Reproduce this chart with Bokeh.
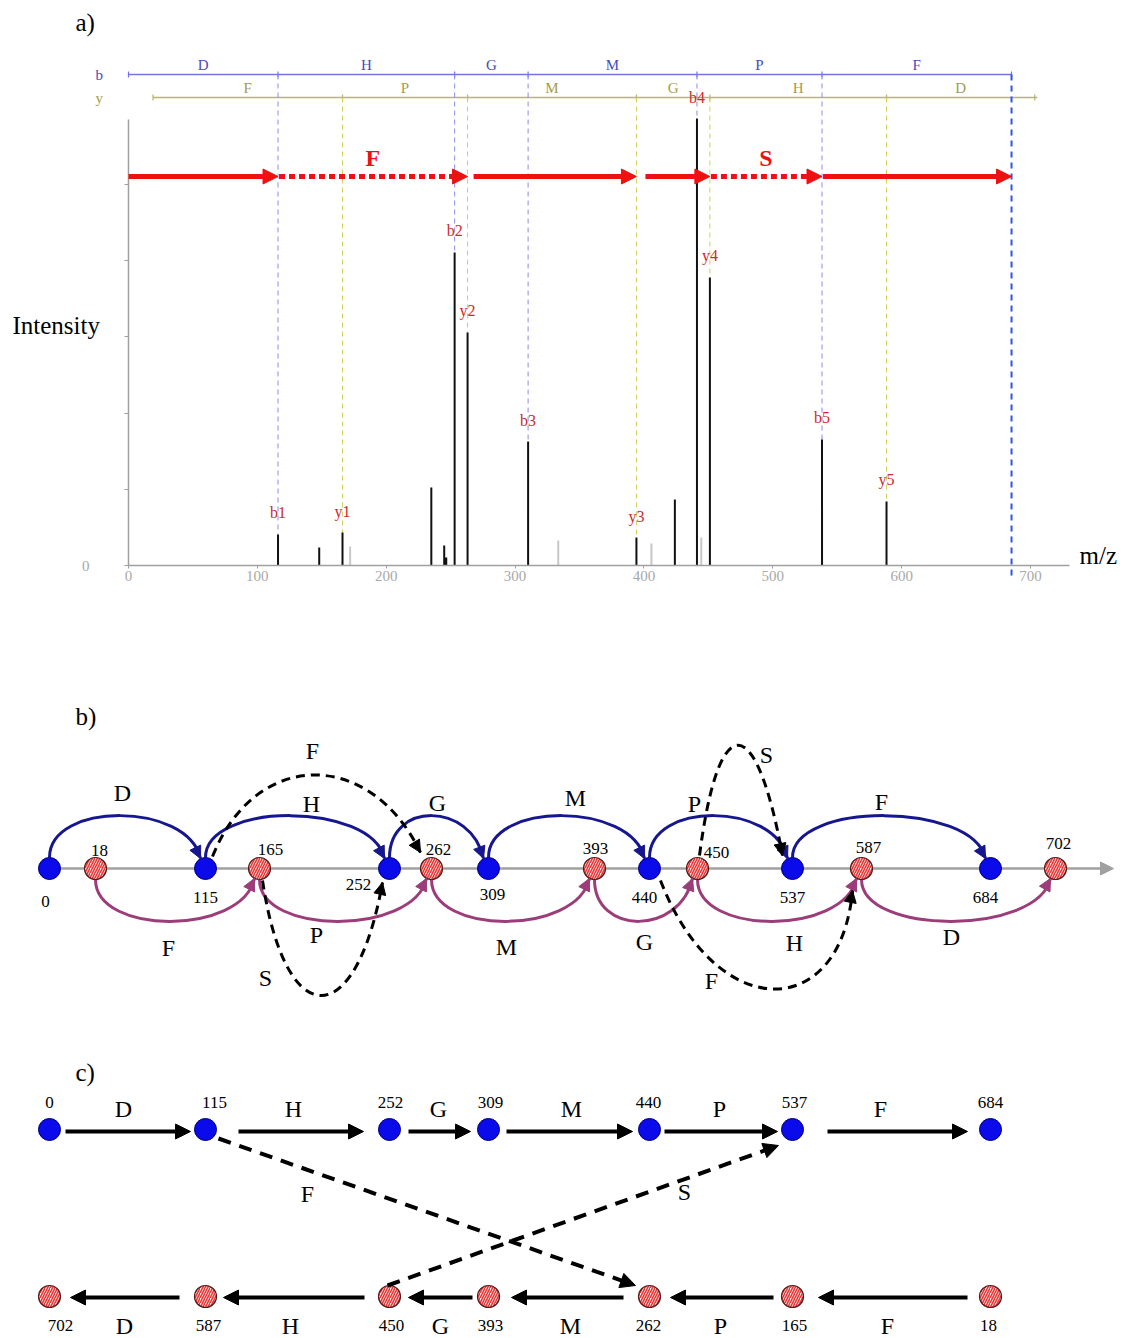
import numpy as np
from bokeh.plotting import figure
from bokeh.layouts import column
from bokeh.models import Range1d, Arrow, NormalHead, FixedTicker, ColumnDataSource
from bokeh.embed import file_html
from bokeh.resources import INLINE
from bokeh.core.properties import value

SERIF = "Liberation Serif"

# ============================ DATA ============================
# panel a : spectrum of peptide DHGMPF with b / y ladders (m/z)
b_residues = ["D", "H", "G", "M", "P", "F"]
y_residues = ["F", "P", "M", "G", "H", "D"]
b_ladder_mz = [0.0, 116.03, 253.09, 310.11, 441.15, 538.20, 685.27]
y_ladder_mz = [19.02, 166.08, 263.13, 394.17, 451.19, 588.25, 703.28]

ion_names = ["b1", "y1", "b2", "y2", "b3", "y3", "b4", "y4", "b5", "y5"]
ion_mz = [116.03, 166.08, 253.09, 263.13, 310.11, 394.17, 441.15, 451.19, 538.20, 588.25]
ion_intensity = [407, 433, 4108, 3058, 1627, 367, 5866, 3780, 1654, 840]

other_mz = [148.0, 235.0, 245.0, 424.0]
other_intensity = [236, 1024, 262, 866]
small_mz = [246.2]
small_intensity = [105]
faint_mz = [172.0, 333.5, 405.8, 444.5]
faint_intensity = [249, 328, 289, 367]

# de novo path through the spectrum
path_mz = [0.0, 116.03, 263.13, 394.17, 451.19, 538.20, 685.27]
path_dotted = [False, True, False, False, True, False]
path_labels = ["", "F", "", "", "S", ""]

x_ticks = [0, 100, 200, 300, 400, 500, 600, 700]
y_ticks = [0, 1000, 2000, 3000, 4000, 5000]

# panels b, c : spectrum graph
b_nodes = [0, 115, 252, 309, 440, 537, 684]
y_nodes = [18, 165, 262, 393, 450, 587, 702]
b_edges = ["D", "H", "G", "M", "P", "F"]
y_edges = ["F", "P", "M", "G", "H", "D"]

# ============================ LAYOUT / STYLE ============================
BLUE_LADDER = "#7474e6"
BLUE_TEXT = "#4a4ab8"
OLIVE_LADDER = "#b6b66c"
OLIVE_TEXT = "#a39c4c"
BLUE_GUIDE = "#8c8ce8"
OLIVE_GUIDE = "#cfcf5a"
LAST_GUIDE = "#2d55e8"
ION_RED = "#cc2a2a"
PATH_RED = "#ee1111"
GREY = "#a0a0a0"
NAVY = "#16168e"
PURPLE = "#9c3d7a"
NODE_BLUE = "#0a0aea"
NODE_RED_FILL = "#fde4e4"
NODE_RED_HATCH = "#e43a3a"

W = 1131
LEFT = 10          # common left border of all figures
PX_PER_MZ = 1.2886
PX_PER_INT = 0.0762
X0_PX, Y0_PX = 128, 565   # where the spectrum origin sits


def mzX(X):
    return (X - X0_PX) / PX_PER_MZ


def intY(Y):
    return (Y0_PX - Y) / PX_PER_INT


def mz_px(px):
    return px / PX_PER_MZ


def int_px(px):
    return px / PX_PER_INT


def bez(p0, p1, p2, p3, t):
    return tuple((1 - t) ** 3 * a + 3 * (1 - t) ** 2 * t * b + 3 * (1 - t) * t ** 2 * c + t ** 3 * d
                 for a, b, c, d in zip(p0, p1, p2, p3))


def heads(p, curves, color, size):
    x0, y0, x1, y1 = [], [], [], []
    for (p0, p1, p2, p3) in curves:
        s = bez(p0, p1, p2, p3, 0.9)
        x0.append(s[0]); y0.append(s[1]); x1.append(p3[0]); y1.append(p3[1])
    src = ColumnDataSource(dict(x0=x0, y0=y0, x1=x1, y1=y1))
    p.add_layout(Arrow(end=NormalHead(size=size, fill_color=color, line_color=color, line_width=1),
                       x_start="x0", y_start="y0", x_end="x1", y_end="y1", source=src,
                       line_alpha=0, line_width=1))


def draw_curves(p, curves, color, width, dash="solid"):
    p.bezier(x0=[c[0][0] for c in curves], y0=[c[0][1] for c in curves],
             x1=[c[3][0] for c in curves], y1=[c[3][1] for c in curves],
             cx0=[c[1][0] for c in curves], cy0=[c[1][1] for c in curves],
             cx1=[c[2][0] for c in curves], cy1=[c[2][1] for c in curves],
             line_color=color, line_width=width, line_dash=dash)


def txt(p, x, y, t, size, color="black", align="center", baseline="middle", bold=False, yoff=0):
    p.text(x=x, y=y, text=t, text_font=value(SERIF), text_font_size=size, text_color=color,
           text_align=align, text_baseline=baseline, y_offset=yoff,
           text_font_style="bold" if bold else "normal")


# ============================ PANEL A ============================
HA, BOT_A = 628, 30
pa = figure(width=W, height=HA, x_range=Range1d(mzX(LEFT), mzX(W)), y_range=Range1d(intY(HA - BOT_A), intY(0)),
            output_backend="svg", toolbar_location=None,
            min_border_left=LEFT, min_border_right=0, min_border_top=0, min_border_bottom=BOT_A)
pa.grid.visible = False
pa.outline_line_color = None

xa = pa.xaxis[0]
xa.fixed_location = 0
xa.ticker = FixedTicker(ticks=x_ticks)
xa.bounds = (0, mzX(1069))
xa.axis_line_color = GREY
xa.axis_line_width = 1.5
xa.major_tick_line_color = GREY
xa.major_tick_out = 3
xa.major_tick_in = 0
xa.minor_tick_line_color = None
xa.major_label_text_font = SERIF
xa.major_label_text_font_size = "15px"
xa.major_label_text_color = "#a8a8a8"
xa.major_label_standoff = 2

ya = pa.yaxis[0]
ya.fixed_location = 0
ya.ticker = FixedTicker(ticks=y_ticks)
ya.bounds = (0, 5850)
ya.major_label_overrides = {t: " " for t in y_ticks}
ya.major_label_text_font_size = "0px"
ya.major_label_standoff = 0
ya.axis_line_color = GREY
ya.axis_line_width = 1.5
ya.major_tick_line_color = GREY
ya.major_tick_out = 4
ya.major_tick_in = 0
ya.minor_tick_line_color = None

YB = intY(74)
YY = intY(97)
YA = intY(176)
ion_int = dict(zip(ion_names, ion_intensity))
ion_pos = dict(zip(ion_names, ion_mz))

# ladders
pa.segment(x0=[b_ladder_mz[0]], y0=[YB], x1=[b_ladder_mz[-1]], y1=[YB], line_color=BLUE_LADDER, line_width=1.5)
pa.segment(x0=b_ladder_mz, y0=YB - int_px(3), x1=b_ladder_mz, y1=YB + int_px(3), line_color=BLUE_LADDER, line_width=1.2)
pa.segment(x0=[y_ladder_mz[0]], y0=[YY], x1=[y_ladder_mz[-1] + 2], y1=[YY], line_color=OLIVE_LADDER, line_width=1.5)
pa.segment(x0=y_ladder_mz, y0=YY - int_px(3), x1=y_ladder_mz, y1=YY + int_px(3), line_color=OLIVE_LADDER, line_width=1.2)
bmid = [(a + b) / 2 for a, b in zip(b_ladder_mz[:-1], b_ladder_mz[1:])]
ymid = [(a + b) / 2 for a, b in zip(y_ladder_mz[:-1], y_ladder_mz[1:])]
txt(pa, bmid, [YB] * 6, b_residues, "15px", BLUE_TEXT, baseline="bottom", yoff=-2)
txt(pa, ymid, [YY] * 6, y_residues, "15px", OLIVE_TEXT, baseline="bottom", yoff=-2)

# guide lines
bnames = ["b1", "b2", "b3", "b4", "b5"]
ynames = ["y1", "y2", "y3", "y4", "y5"]
pa.segment(x0=[ion_pos[n] for n in bnames], y0=YB, x1=[ion_pos[n] for n in bnames],
           y1=[ion_int[n] for n in bnames], line_color=BLUE_GUIDE, line_width=1, line_dash="5 4")
pa.segment(x0=[ion_pos[n] for n in ynames], y0=YY, x1=[ion_pos[n] for n in ynames],
           y1=[ion_int[n] for n in ynames], line_color=OLIVE_GUIDE, line_width=1, line_dash="5 4")
pa.segment(x0=[b_ladder_mz[-1]], y0=[YB], x1=[b_ladder_mz[-1]], y1=[intY(576)], line_color=LAST_GUIDE,
           line_width=2, line_dash="6 5")

# peaks
pa.segment(x0=faint_mz, y0=0, x1=faint_mz, y1=faint_intensity, line_color="#c8c8c8", line_width=2)
pa.segment(x0=other_mz, y0=0, x1=other_mz, y1=other_intensity, line_color="#111111", line_width=2)
pa.segment(x0=small_mz, y0=0, x1=small_mz, y1=small_intensity, line_color="#111111", line_width=3)
pa.segment(x0=ion_mz, y0=0, x1=ion_mz, y1=ion_intensity, line_color="#111111", line_width=2)
txt(pa, ion_mz, ion_intensity, ion_names, "16px", ION_RED, baseline="bottom", yoff=-13)

# de novo path arrows
start_gap_px = [0, 1, 6, 9, 1, 1]
for dotted in (False, True):
    idx = [i for i in range(len(path_dotted)) if path_dotted[i] == dotted]
    src = ColumnDataSource(dict(
        x0=[path_mz[i] + mz_px(start_gap_px[i]) for i in idx],
        x1=[path_mz[i + 1] for i in idx],
        y=[YA] * len(idx)))
    pa.add_layout(Arrow(end=NormalHead(size=15, fill_color=PATH_RED, line_color=PATH_RED, line_width=1),
                        x_start="x0", y_start="y", x_end="x1", y_end="y", source=src,
                        line_color=PATH_RED, line_width=5, line_dash="6 4" if dotted else "solid"))
lab_idx = [i for i in range(len(path_labels)) if path_labels[i]]
txt(pa, [(path_mz[i] + path_mz[i + 1]) / 2 for i in lab_idx], [YA] * len(lab_idx),
    [path_labels[i] for i in lab_idx], "24px", PATH_RED, baseline="bottom", bold=True, yoff=-6)

# panel texts
txt(pa, [mzX(75)], [intY(22)], ["a)"], "25px", align="left")
txt(pa, [mzX(95)], [intY(74)], ["b"], "15px", BLUE_TEXT, align="left")
txt(pa, [mzX(95)], [intY(97)], ["y"], "15px", OLIVE_TEXT, align="left")
txt(pa, [mzX(12)], [intY(325)], ["Intensity"], "25px", align="left")
txt(pa, [mzX(1079)], [intY(555)], ["m/z"], "25px", align="left")
txt(pa, [mzX(89)], [0], ["0"], "15px", "#a8a8a8", align="right")

# ============================ PANEL B ============================
COLS = [49, 205, 389, 488, 649, 792, 990]
RED_B = [95, 259, 431, 594, 697, 861, 1055]

pb = figure(width=W, height=400, x_range=Range1d(LEFT, W), y_range=Range1d(-160, 240),
            output_backend="svg", toolbar_location=None, x_axis_location=None, y_axis_location=None,
            min_border_left=LEFT, min_border_right=0, min_border_top=0, min_border_bottom=0)
pb.grid.visible = False
pb.outline_line_color = None

pb.add_layout(Arrow(end=NormalHead(size=13, fill_color=GREY, line_color=GREY, line_width=1),
                    x_start=38, y_start=0, x_end=1113, y_end=0, line_color=GREY, line_width=2.5,
                    level="underlay"))

blue_arcs = [((COLS[i], 11), (COLS[i], 67), (COLS[i + 1] - 18, 67), (COLS[i + 1] - 5, 10)) for i in range(6)]
red_arcs = [((RED_B[i], -11), (RED_B[i], -67), (RED_B[i + 1] - 18, -67), (RED_B[i + 1] - 5, -10)) for i in range(6)]
draw_curves(pb, blue_arcs, NAVY, 3)
draw_curves(pb, red_arcs, PURPLE, 3)

gap_arcs = [((212, 12), (255, 120), (370, 120), (420, 16)),
            ((262, -12), (285, -165), (355, -165), (382, -14)),
            ((699, 13), (718, 160), (755, 160), (782, 13)),
            ((660, -12), (715, -155), (840, -155), (852, -22))]
draw_curves(pb, gap_arcs, "black", 3, "9 6")

pb.scatter(x=COLS, y=[0] * 7, size=22, marker="circle", fill_color=NODE_BLUE, line_color="#000070", line_width=1)
pb.scatter(x=RED_B, y=[0] * 7, size=22, marker="circle", fill_color=NODE_RED_FILL, line_color="#5a1a1a",
           line_width=1.2, hatch_pattern="/", hatch_color=NODE_RED_HATCH, hatch_weight=1.6, hatch_scale=5)

heads(pb, blue_arcs, NAVY, 12)
heads(pb, red_arcs, PURPLE, 12)
heads(pb, gap_arcs, "black", 12)

txt(pb, [45, 205, 358, 492, 644, 792, 985], [-33, -29, -16, -26, -29, -29, -29], [str(v) for v in b_nodes], "17px")
txt(pb, [99, 270, 438, 595, 716, 868, 1058], [18, 19, 19, 20, 16, 21, 25], [str(v) for v in y_nodes], "17px")
txt(pb, [122, 311, 437, 575, 694, 881], [76, 65, 66, 71, 65, 67], b_edges, "24px")
txt(pb, [168, 316, 506, 644, 794, 951], [-79, -66, -78, -73, -74, -68], y_edges, "24px")
txt(pb, [312, 265, 766, 711], [118, -109, 114, -112], ["F", "S", "S", "F"], "24px")
txt(pb, [75], [152], ["b)"], "25px", align="left")

# ============================ PANEL C ============================
TOP = 167
pc = figure(width=W, height=310, x_range=Range1d(LEFT, W), y_range=Range1d(-42, 268),
            output_backend="svg", toolbar_location=None, x_axis_location=None, y_axis_location=None,
            min_border_left=LEFT, min_border_right=0, min_border_top=0, min_border_bottom=0)
pc.grid.visible = False
pc.outline_line_color = None

top_src = ColumnDataSource(dict(x0=[65, 238, 408, 506, 664, 827], x1=[190, 363, 470, 632, 777, 967], y=[TOP - 2] * 6))
bot_src = ColumnDataSource(dict(x0=[179, 364, 472, 623, 773, 967], x1=[70, 223, 408, 511, 670, 818], y=[-1] * 6))
for s in (top_src, bot_src):
    pc.add_layout(Arrow(end=NormalHead(size=15, fill_color="black", line_color="black", line_width=1),
                        x_start="x0", y_start="y", x_end="x1", y_end="y", source=s,
                        line_color="black", line_width=4))
dash_src = ColumnDataSource(dict(x0=[218, 387], y0=[158, 11], x1=[635, 778], y1=[11, 151]))
pc.add_layout(Arrow(end=NormalHead(size=15, fill_color="black", line_color="black", line_width=1),
                    x_start="x0", y_start="y0", x_end="x1", y_end="y1", source=dash_src,
                    line_color="black", line_width=4, line_dash="13 9"))

pc.scatter(x=COLS, y=[TOP] * 7, size=22, marker="circle", fill_color=NODE_BLUE, line_color="#000070", line_width=1)
pc.scatter(x=COLS, y=[0] * 7, size=22, marker="circle", fill_color=NODE_RED_FILL, line_color="#5a1a1a",
           line_width=1.2, hatch_pattern="/", hatch_color=NODE_RED_HATCH, hatch_weight=1.6, hatch_scale=5)

txt(pc, [49, 214, 390, 490, 648, 794, 990], [TOP + 27] * 7, [str(v) for v in b_nodes], "17px")
txt(pc, [60, 208, 391, 490, 648, 794, 988], [-29] * 7, [str(v) for v in y_nodes[::-1]], "17px")
txt(pc, [123, 293, 438, 571, 719, 880], [TOP + 21] * 6, b_edges, "24px")
txt(pc, [124, 290, 440, 570, 720, 887], [-29] * 6, y_edges[::-1], "24px")
txt(pc, [307, 684], [103, 105], ["F", "S"], "24px")
txt(pc, [75], [224], ["c)"], "25px", align="left")

layout = column(pa, pb, pc, spacing=0)
open("out.html", "w").write(file_html(layout, INLINE))
